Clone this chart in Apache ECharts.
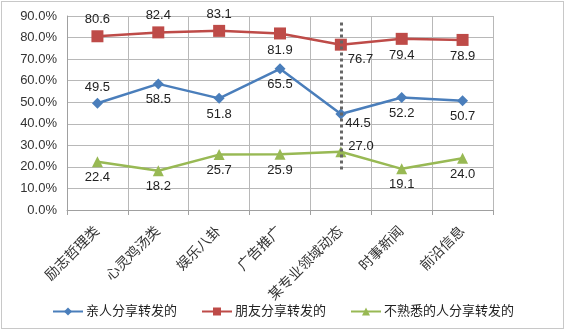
<!DOCTYPE html>
<html><head><meta charset="utf-8">
<script src="https://cdn.jsdelivr.net/npm/echarts@6/dist/echarts.min.js"></script>
<style>
html,body{margin:0;padding:0;background:#fff;}
#frame{position:absolute;left:1px;top:1px;width:561px;height:326px;border:1px solid #c8c8c8;box-sizing:content-box;}
#c{position:absolute;left:0;top:0;width:565px;height:330px;}
</style></head>
<body>
<div id="frame"></div>
<div id="c"></div>
<script>
const categories = ['励志哲理类','心灵鸡汤类','娱乐八卦','广告推广','某专业领域动态','时事新闻','前沿信息'];
const seriesNames = ['亲人分享转发的','朋友分享转发的','不熟悉的人分享转发的'];
const family = [49.5, 58.5, 51.8, 65.5, 44.5, 52.2, 50.7];
const friends = [80.6, 82.4, 83.1, 81.9, 76.7, 79.4, 78.9];
const strangers = [22.4, 18.2, 25.7, 25.9, 27.0, 19.1, 24.0];
const familyLabelPos = ['top','bottom','bottom','bottom','right','bottom','bottom'];
const friendsLabelPos = ['top','top','top','bottom','right','bottom','bottom'];
const strangersLabelPos = ['bottom','bottom','bottom','bottom','right','bottom','bottom'];
const yTicks = {min:0, max:90, interval:10};
const markCategory = '某专业领域动态';
const markRange = [87, 17.5];

const chart = echarts.init(document.getElementById('c'), null, {renderer:'canvas'});
const font = 'Arial, "Noto Sans CJK SC", sans-serif';
function mkData(vals, pos, special){
  return vals.map((v,i)=>({value:v, label:{position:pos[i], offset: (i===4 ? special : [0,0])}}));
}
const lbl = {show:true, color:'#222', fontSize:13, fontFamily:font, distance:4, formatter:p=>p.value.toFixed(1)};
chart.setOption({
  animation:false,
  grid:{left:67, right:72, top:16, bottom:120},
  legend:{bottom:7, left:47, itemWidth:30, itemHeight:10, itemGap:24,
    textStyle:{color:'#222', fontSize:13, fontFamily:font, padding:[0,0,0,-2]},
    data:seriesNames},
  xAxis:{type:'category', data:categories, boundaryGap:true,
    axisLine:{lineStyle:{color:'#a0a0a0'}},
    axisTick:{show:true, length:5, lineStyle:{color:'#a0a0a0'}},
    splitLine:{show:true, lineStyle:{color:'#b8b8b8'}},
    axisLabel:{rotate:45, color:'#333', fontSize:14, fontFamily:font, margin:19, interval:0}},
  yAxis:{type:'value', min:yTicks.min, max:yTicks.max, interval:yTicks.interval,
    axisLine:{show:true, lineStyle:{color:'#a0a0a0'}},
    axisTick:{show:false},
    splitLine:{lineStyle:{color:'#b8b8b8'}},
    axisLabel:{color:'#333', fontSize:13, fontFamily:font, margin:10, formatter:v=>v.toFixed(1)+'%'}},
  series:[
    {name:seriesNames[0], type:'line', data:mkData(family, familyLabelPos, [-5,9]), symbol:'diamond', symbolSize:11,
     itemStyle:{color:'#4a7ebb'}, lineStyle:{width:2.5, color:'#4a7ebb'}, label:lbl, z:3},
    {name:seriesNames[1], type:'line', data:mkData(friends, friendsLabelPos, [-3,15]), symbol:'rect', symbolSize:12,
     itemStyle:{color:'#be4b48'}, lineStyle:{width:2.5, color:'#be4b48'}, label:lbl, z:3,
     markLine:{silent:true, symbol:['none','none'], label:{show:false},
       lineStyle:{color:'#666', type:[3,3], width:3},
       data:[[{coord:[markCategory, markRange[0]]},{coord:[markCategory, markRange[1]]}]]}},
    {name:seriesNames[2], type:'line', data:mkData(strangers, strangersLabelPos, [-2,-5]), symbol:'triangle', symbolSize:11,
     itemStyle:{color:'#98b954'}, lineStyle:{width:2.5, color:'#98b954'}, label:lbl, z:3}
  ]
});
</script>
</body></html>
